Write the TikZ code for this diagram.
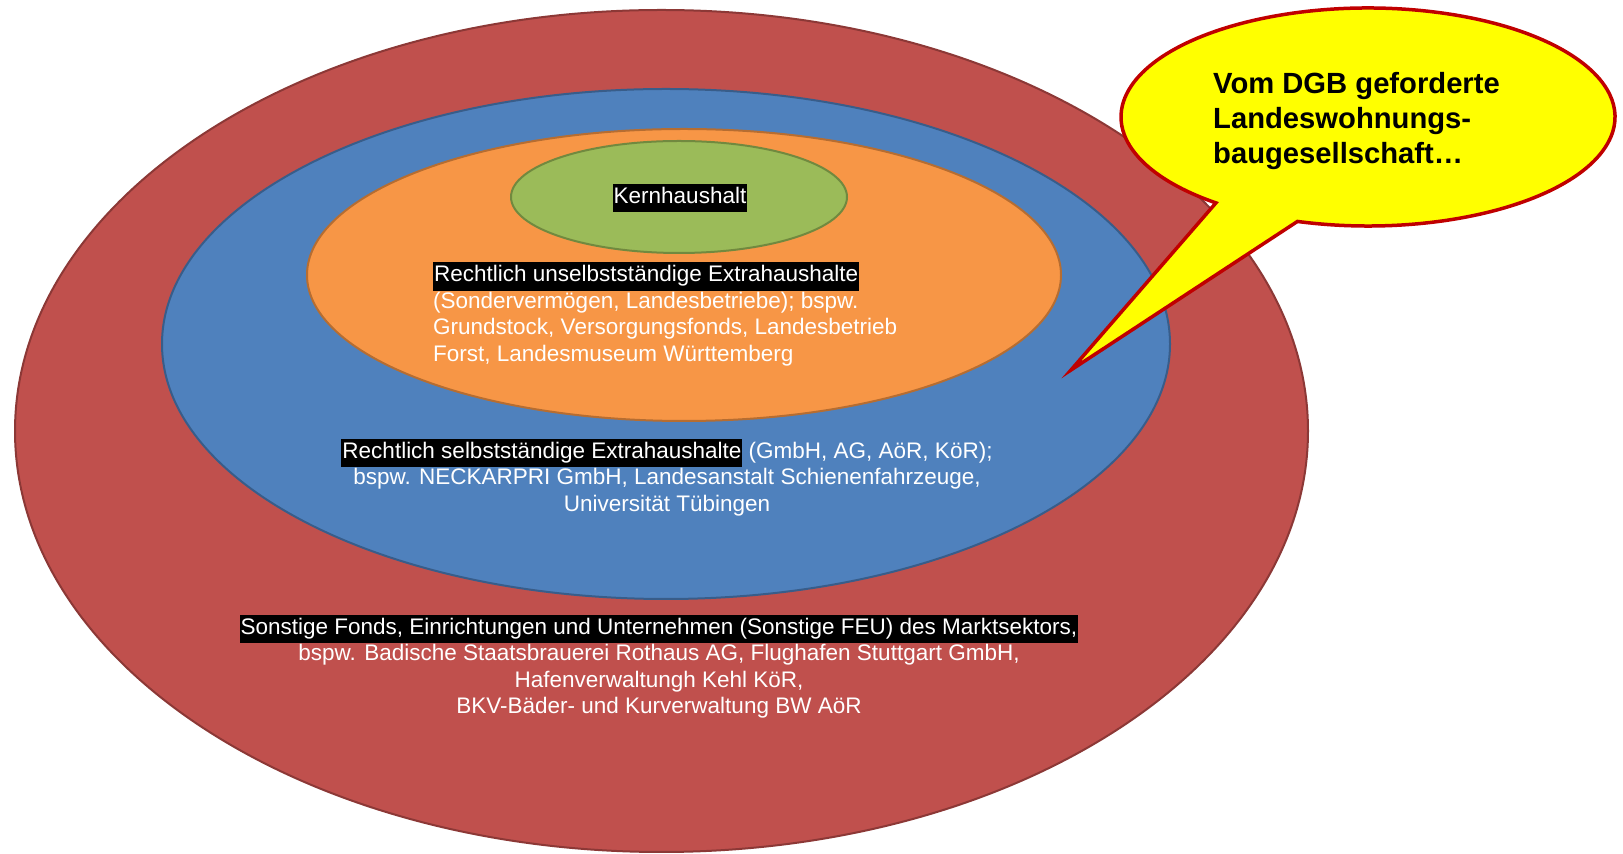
\documentclass[tikz,border=0pt]{standalone}
\usepackage{fontspec}
\setmainfont{Liberation Sans}
\usetikzlibrary{shapes.geometric}
\definecolor{redfill}{HTML}{C0504D}
\definecolor{redline}{HTML}{8C3836}
\definecolor{bluefill}{HTML}{4F81BD}
\definecolor{blueline}{HTML}{385D8A}
\definecolor{orangefill}{HTML}{F79646}
\definecolor{orangeline}{HTML}{B66D31}
\definecolor{greenfill}{HTML}{9BBB59}
\definecolor{greenline}{HTML}{71893F}
\definecolor{callfill}{HTML}{FFFF00}
\definecolor{callline}{HTML}{C00000}
\newcommand{\hlbox}[1]{{\setlength{\fboxsep}{1pt}\colorbox{black}{\strut #1}}}
\tikzset{
  ring/.style={ellipse, inner sep=0pt, line width=2pt},
  txt/.style={text=white, inner sep=0pt, font=\fontsize{22.5}{26.5}\selectfont},
  callout/.style={fill=callfill, draw=callline, line width=3.5pt, line join=miter},
  calltext/.style={text=black, inner sep=0pt, font=\bfseries\fontsize{29.2}{35}\selectfont, align=left}
}
\begin{document}
\begin{tikzpicture}[x=1pt,y=1pt]
\useasboundingbox (0,0) rectangle (1623,854);
\fill[white] (0,0) rectangle (1623,854);
\node[ring, fill=redfill, draw=redline, minimum width=1293pt, minimum height=842pt] (red) at (661.5,423) {};
\node[ring, fill=bluefill, draw=blueline, minimum width=1008pt, minimum height=510pt] (blue) at (666,510) {};
\node[ring, fill=orangefill, draw=orangeline, minimum width=754pt, minimum height=292pt] (orange) at (684,579) {};
\node[ring, fill=greenfill, draw=greenline, minimum width=336pt, minimum height=112pt] (green) at (679,657) {};
\node[txt, align=center] (kern) at (680,656) {\hlbox{Kernhaushalt}};
\node[txt, align=left, anchor=west] (unselb) at (433,540) {\hlbox{Rechtlich unselbstständige Extrahaushalte}\\(Sondervermögen, Landesbetriebe); bspw.\\Grundstock, Versorgungsfonds, Landesbetrieb\\Forst, Landesmuseum Württemberg};
\node[txt, align=center] (selb) at (667,376.5) {\hlbox{Rechtlich selbstständige Extrahaushalte} (GmbH, AG, AöR, KöR);\\bspw. NECKARPRI GmbH, Landesanstalt Schienenfahrzeuge,\\Universität Tübingen};
\node[txt, align=center] (sonst) at (659,187.5) {\hlbox{Sonstige Fonds, Einrichtungen und Unternehmen (Sonstige FEU) des Marktsektors,}\\bspw. Badische Staatsbrauerei Rothaus AG, Flughafen Stuttgart GmbH,\\Hafenverwaltungh Kehl KöR,\\BKV-Bäder- und Kurverwaltung BW AöR};
\coordinate (cc) at (1368,737);
\coordinate (tip) at (1071,484);
\draw[callout] (cc) ++(253.4:247pt and 109pt) arc[start angle=253.4, end angle=592, x radius=247pt, y radius=109pt] -- (tip) -- cycle;
\node[calltext, anchor=west] (calltxt) at (1213,733) {Vom DGB geforderte\\Landeswohnungs-\\baugesellschaft…};
\end{tikzpicture}
\end{document}
